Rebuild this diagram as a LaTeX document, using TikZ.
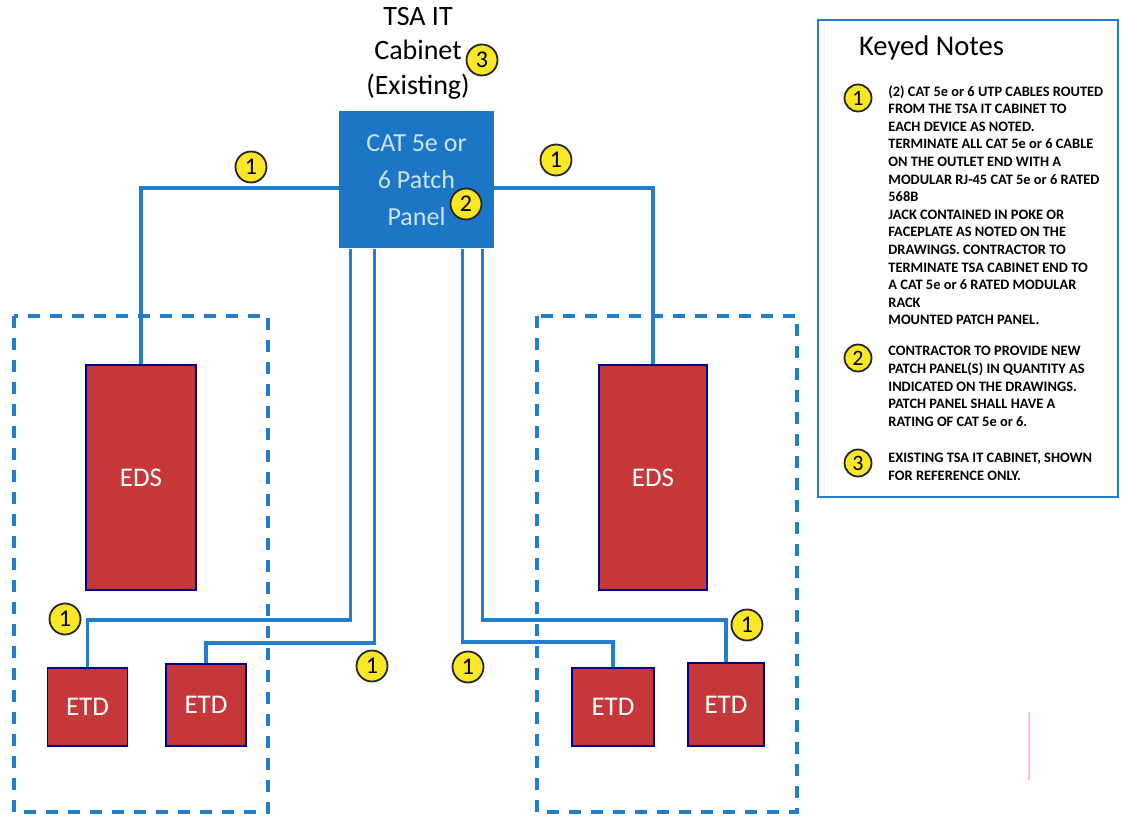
\documentclass[tikz,border=0pt]{standalone}
\usepackage{fontspec}
\setmainfont{Carlito}
\definecolor{cable}{RGB}{35,125,205}
\definecolor{panelblue}{RGB}{28,117,197}
\definecolor{paneltext}{RGB}{205,228,248}
\definecolor{devred}{RGB}{198,55,58}
\definecolor{tagyellow}{RGB}{250,232,40}
\begin{document}
\begin{tikzpicture}[x=0.5pt,y=-0.5pt,
	cab/.style={cable,line width=1.6pt},
	zone/.style={cable,line width=1.6pt,dash pattern=on 6pt off 5pt},
	dev/.style={draw=blue!55!black,line width=0.8pt,fill=devred,text=white,inner sep=0pt,font=\fontsize{13.5}{15}\selectfont},
	tag/.style={circle,draw=black!85,line width=0.9pt,fill=tagyellow,inner sep=0pt,minimum size=15.5pt,font=\fontsize{12}{13}\selectfont},
	notetag/.style={tag,minimum size=13.5pt,font=\fontsize{11}{12}\selectfont},
	note/.style={anchor=north west,align=left,inner sep=0pt,font=\bfseries\fontsize{7.2}{8.8}\selectfont}]
	\useasboundingbox (0,0) rectangle (1123,817);
	% cabinet and patch panel
	\node[align=center,font=\fontsize{14}{17.2}\selectfont] (title) at (418,53) {TSA IT\\Cabinet\\(Existing)};
	\node[tag] (t3) at (482,60) {3};
	\node[fill=panelblue,minimum width=77.5pt,minimum height=68.5pt,inner sep=0pt,align=center,text=paneltext,font=\fontsize{13}{18.5}\selectfont] (panel) at (416.5,180) {CAT 5e or\\6 Patch\\Panel\hspace{10pt}};
	\node[tag] (t2) at (466,204) {2};
	% device zones
	\draw[zone] (14,316) rectangle (268,812);
	\draw[zone] (537,316) rectangle (797,812);
	\node[dev,minimum width=55pt,minimum height=112.5pt] (edsL) at (141,477.5) {EDS};
	\node[dev,minimum width=54pt,minimum height=112.5pt] (edsR) at (653,477.5) {EDS};
	\node[dev,minimum width=40pt,minimum height=39pt] (etdL1) at (87.5,707) {ETD};
	\node[dev,minimum width=40pt,minimum height=41pt] (etdL2) at (206,705) {ETD};
	\node[dev,minimum width=41pt,minimum height=39pt] (etdR1) at (613,707) {ETD};
	\node[dev,minimum width=38pt,minimum height=41.5pt] (etdR2) at (726,704.5) {ETD};
	% cables
	\draw[cab] (panel.west) ++(0,8) -| (edsL.north);
	\draw[cab] (panel.east) ++(0,8) -| (edsR.north);
	\draw[cab] ([xshift=-33pt]panel.south) -- ++(0,371) -| (etdL1.north);
	\draw[cab] ([xshift=-21pt]panel.south) -- ++(0,394) -| (etdL2.north);
	\draw[cab] ([xshift=23pt]panel.south) -- ++(0,393) -| (etdR1.north);
	\draw[cab] ([xshift=33pt]panel.south) -- ++(0,371) -| (etdR2.north);
	\node[tag] (c1) at (251,167) {1};
	\node[tag] (c2) at (556,160) {1};
	\node[tag] (c3) at (65,619) {1};
	\node[tag] (c4) at (372,666) {1};
	\node[tag] (c5) at (468,667) {1};
	\node[tag] (c6) at (747,625) {1};
	\draw[magenta!25,line width=0.6pt] (1029,712) -- (1029,780);
	% keyed notes
	\draw[cable,line width=1.1pt] (818,20) rectangle (1118,497);
	\node[anchor=west,font=\fontsize{14.3}{16}\selectfont] (kn) at (852,48) {Keyed Notes};
	\node[notetag] (n1) at (858,98) {1};
	\node[note] (k1) at (888,85) {(2) CAT 5e or 6 UTP CABLES ROUTED\\FROM THE TSA IT CABINET TO\\EACH DEVICE AS NOTED.\\TERMINATE ALL CAT 5e or 6 CABLE\\ON THE OUTLET END WITH A\\MODULAR RJ-45 CAT 5e or 6 RATED\\568B\\JACK CONTAINED IN POKE OR\\FACEPLATE AS NOTED ON THE\\DRAWINGS. CONTRACTOR TO\\TERMINATE TSA CABINET END TO\\A CAT 5e or 6 RATED MODULAR\\RACK\\MOUNTED PATCH PANEL.};
	\node[notetag] (n2) at (858,358) {2};
	\node[note] (k2) at (888,346) {CONTRACTOR TO PROVIDE NEW\\PATCH PANEL(S) IN QUANTITY AS\\INDICATED ON THE DRAWINGS.\\PATCH PANEL SHALL HAVE A\\RATING OF CAT 5e or 6.};
	\node[notetag] (n3) at (858,463) {3};
	\node[note] (k3) at (888,453) {EXISTING TSA IT CABINET, SHOWN\\FOR REFERENCE ONLY.};
\end{tikzpicture}
\end{document}
